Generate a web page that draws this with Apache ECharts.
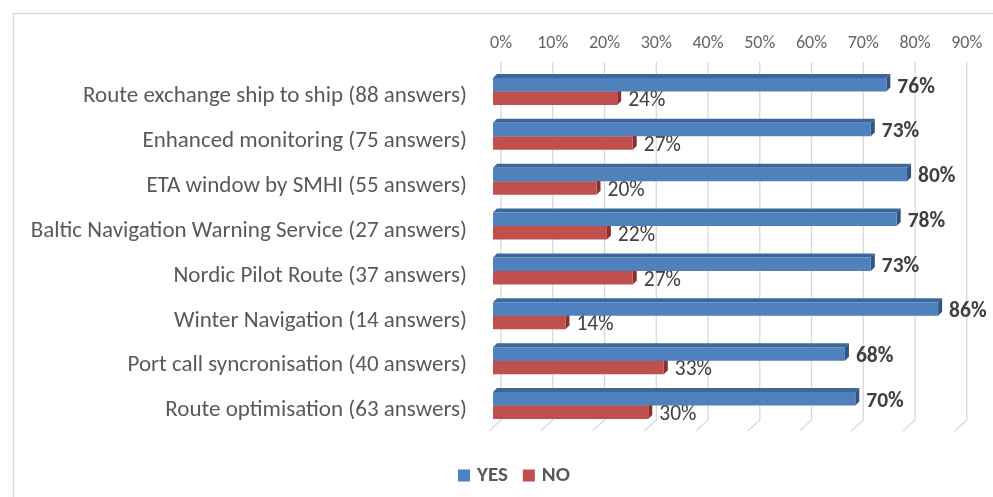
<!DOCTYPE html>
<html>
<head>
<meta charset="utf-8">
<script src="https://cdn.jsdelivr.net/npm/echarts@6/dist/echarts.min.js"></script>
<style>
  html, body { margin: 0; padding: 0; background: #fff; }
  #chart { width: 993px; height: 497px; }
</style>
</head>
<body>
<div id="chart"></div>
<script>
// Survey answers per service, share of YES / NO (percent)
const categories = [
  'Route exchange ship to ship (88 answers)',
  'Enhanced monitoring (75 answers)',
  'ETA window by SMHI (55 answers)',
  'Baltic Navigation Warning Service (27 answers)',
  'Nordic Pilot Route (37 answers)',
  'Winter Navigation (14 answers)',
  'Port call syncronisation (40 answers)',
  'Route optimisation (63 answers)'
];
const yesValues = [76, 73, 80, 78, 73, 86, 68, 70];
const noValues = [24, 27, 20, 22, 27, 14, 33, 30];
const axisTicks = [0, 10, 20, 30, 40, 50, 60, 70, 80, 90];

const FONT = 'Carlito, Lato, "Liberation Sans", sans-serif';

// pseudo-3D depth of the plot box and of each bar
const WALL_DX = 8, WALL_DY = 7, FLOOR_DX = 4, FLOOR_DY = 3;
const BAR_H = 13.5, BAR_DEPTH = 4;

// one bar drawn as front face + top face + end face, with its value label
function barRenderer(kind, faces, labelStyle) {
  return function (params, api) {
    const cat = api.value(0);
    const val = api.value(1);
    const p0 = api.coord([0, cat]);
    const p1 = api.coord([val, cat]);
    const c = p0[1];
    const x0 = p0[0], x1 = p1[0];
    const yTop = kind === 'yes' ? c - BAR_H : c;
    const yBot = yTop + BAR_H;
    const d = BAR_DEPTH;
    const children = [
      { type: 'polygon', shape: { points: [[x0, yTop], [x1, yTop], [x1 + d, yTop - d], [x0 + d, yTop - d]] },
        style: { fill: faces.top } },
      { type: 'polygon', shape: { points: [[x1, yTop], [x1, yBot], [x1 + d, yBot - d], [x1 + d, yTop - d]] },
        style: { fill: faces.side } },
      { type: 'rect', shape: { x: x0, y: yTop, width: x1 - x0, height: BAR_H },
        style: { fill: faces.front } },
      { type: 'text', x: x1 + d + 7, y: (yTop + yBot) / 2 + 2.5,
        style: Object.assign({ text: val + '%', verticalAlign: 'middle', align: 'left' }, labelStyle) }
    ];
    return { type: 'group', children: children };
  };
}

// back-wall gridline at each tick, folding onto the floor towards the viewer
function gridRenderer(params, api) {
  const v = api.value(0);
  const cs = params.coordSys;
  const x = api.coord([v, 0])[0];
  const top = cs.y, bottom = cs.y + cs.height;
  return {
    type: 'polyline',
    shape: { points: [[x + WALL_DX, top - WALL_DY], [x + WALL_DX, bottom - WALL_DY - 1], [x - FLOOR_DX, bottom + FLOOR_DY]] },
    style: { stroke: '#d9d9d9', lineWidth: 1.3, fill: null }
  };
}

const chart = echarts.init(document.getElementById('chart'), null, { renderer: 'canvas' });

chart.setOption({
  backgroundColor: '#ffffff',
  animation: false,
  graphic: [{
    type: 'rect', shape: { x: 13.5, y: 13.5, width: 1000, height: 500 },
    style: { fill: null, stroke: '#d9d9d9', lineWidth: 1.5 }, silent: true, z: 0
  }],
  grid: { left: 493, top: 69, width: 465.8, height: 359, containLabel: false },
  xAxis: {
    type: 'value', position: 'top', min: 0, max: 90, interval: 10,
    axisLine: { show: false }, axisTick: { show: false }, splitLine: { show: false },
    axisLabel: {
      formatter: '{value}%', margin: 17, color: '#666666',
      fontFamily: FONT, fontSize: 18, padding: [0, 0, 0, 2 * WALL_DX]
    }
  },
  yAxis: {
    type: 'category', data: categories, inverse: true,
    axisLine: { show: false }, axisTick: { show: false }, splitLine: { show: false },
    axisLabel: {
      margin: 26, color: '#595959', fontFamily: FONT, fontSize: 23,
      verticalAlign: 'top', lineHeight: 10
    }
  },
  legend: {
    data: ['YES', 'NO'], left: 453, top: 460, icon: 'rect',
    itemWidth: 12, itemHeight: 12, itemGap: 15,
    textStyle: { color: '#595959', fontFamily: FONT, fontSize: 21, fontWeight: 'bold', padding: [0, 0, 0, 2] }
  },
  series: [
    {
      type: 'custom', name: 'grid', silent: true, z: 1,
      renderItem: gridRenderer,
      data: axisTicks.map(function (t) { return [t]; }),
      encode: { x: 0 }
    },
    {
      type: 'custom', name: 'YES', z: 3,
      itemStyle: { color: '#4f81bd' },
      renderItem: barRenderer('yes', { front: '#4f81bd', top: '#3c6799', side: '#2f5584' },
        { fill: '#404040', fontFamily: FONT, fontSize: 21.5, fontWeight: 'bold' }),
      data: yesValues.map(function (v, i) { return [i, v]; }),
      encode: { y: 0, x: 1 }
    },
    {
      type: 'custom', name: 'NO', z: 2,
      itemStyle: { color: '#c0504d' },
      renderItem: barRenderer('no', { front: '#c0504d', top: '#9c3b38', side: '#8a2f2c' },
        { fill: '#404040', fontFamily: FONT, fontSize: 21.5 }),
      data: noValues.map(function (v, i) { return [i, v]; }),
      encode: { y: 0, x: 1 }
    }
  ]
});
</script>
</body>
</html>
